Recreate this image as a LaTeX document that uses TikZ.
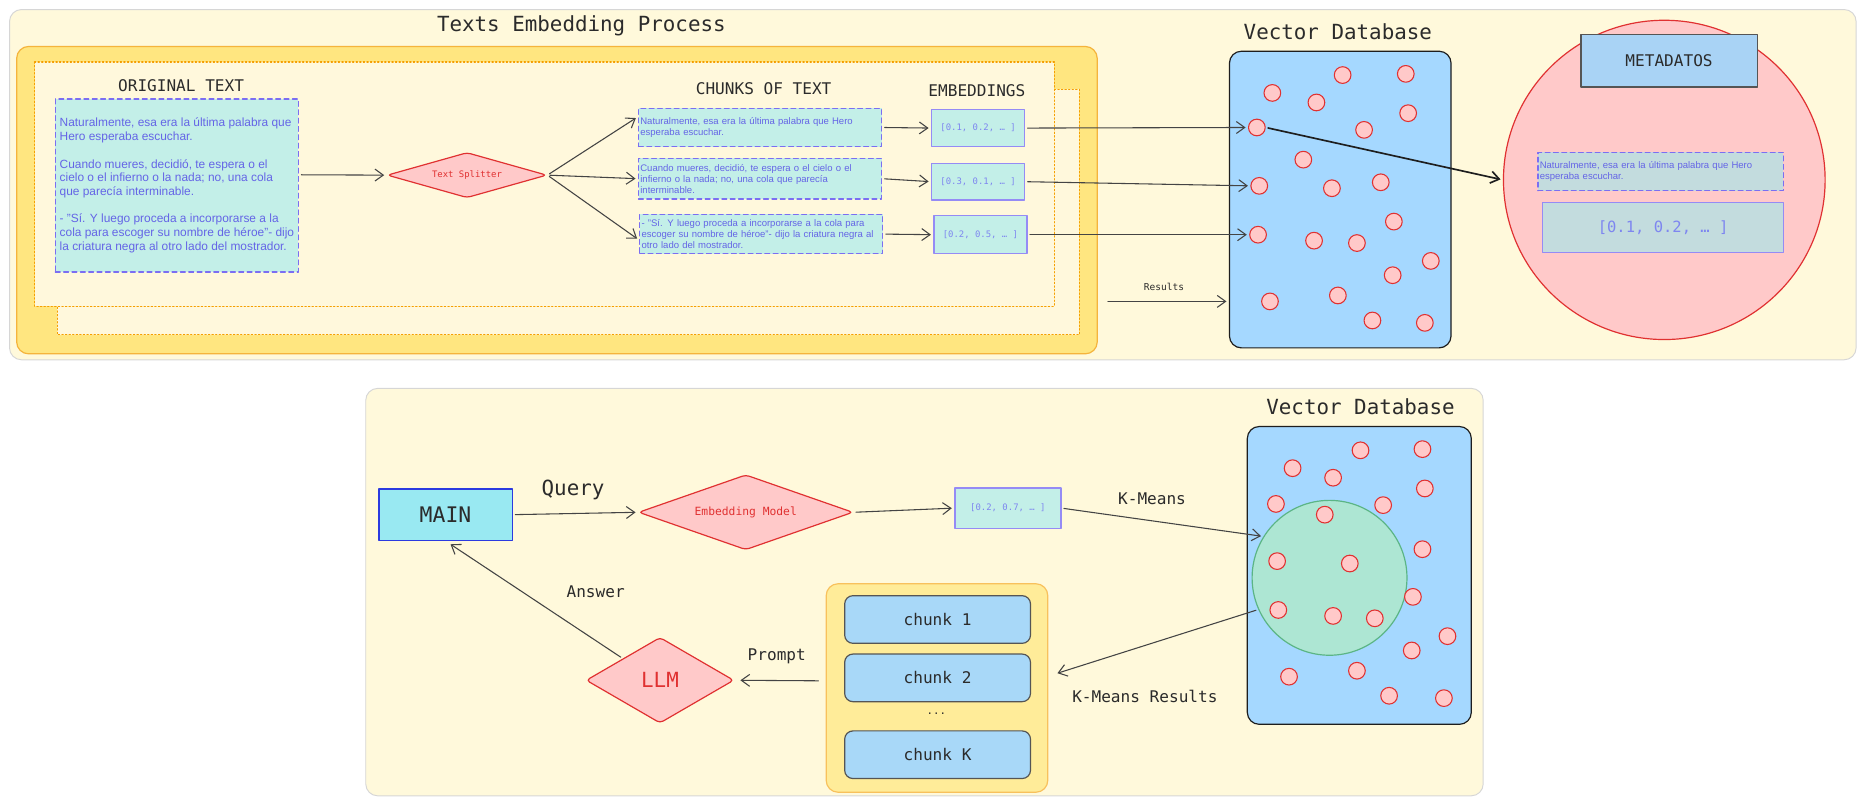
\documentclass[tikz,border=0pt]{standalone}
\usepackage{fontspec}
\setmainfont{Liberation Sans}
\setsansfont{Liberation Sans}
\setmonofont{DejaVu Sans Mono}
\usepackage{tikz}
\usetikzlibrary{arrows.meta,positioning,shapes.geometric}
\definecolor{kbCream}{HTML}{FFF9DB}
\definecolor{kbPanelLine}{HTML}{D6D6D6}
\definecolor{kbYellow}{HTML}{FFE680}
\definecolor{kbOrange}{HTML}{F5B43C}
\definecolor{kbDotLine}{HTML}{F59F00}
\definecolor{kbCreamIn}{HTML}{FFF8DC}
\definecolor{kbViolet}{HTML}{7B6EF2}
\definecolor{kbTeal}{HTML}{C3EFE8}
\definecolor{kbInk}{HTML}{6464E6}
\definecolor{kbVecInk}{HTML}{7E86F0}
\definecolor{kbRed}{HTML}{E03131}
\definecolor{kbPink}{HTML}{FFC9C9}
\definecolor{kbBlue}{HTML}{A5D8FF}
\definecolor{kbDark}{HTML}{1E1E1E}
\definecolor{kbArrow}{HTML}{444444}
\definecolor{kbTitle}{HTML}{2B2B2B}
\definecolor{kbGrey}{HTML}{555555}
\definecolor{kbMetaBlue}{HTML}{A9D3F5}
\definecolor{kbMetaTeal}{HTML}{C3DCDE}
\definecolor{kbCyan}{HTML}{99E9F2}
\definecolor{kbMainLine}{HTML}{2B3AE0}
\definecolor{kbMint}{HTML}{ADE6D3}
\definecolor{kbGreenLine}{HTML}{5BB585}
\definecolor{kbYellowSoft}{HTML}{FFEC99}
\definecolor{kbOrangeSoft}{HTML}{F8C15C}
\definecolor{kbBlueSoft}{HTML}{A8D8F8}
\tikzset{
  kb diagram/.style={x=1pt, y=-1pt, line cap=round, line join=round,
    font=\ttfamily, text=kbTitle},
  kb panel/.style={draw=kbPanelLine, fill=kbCream, line width=0.8pt,
    rounded corners=10pt},
  kb frame/.style={draw=kbOrange, fill=kbYellow, line width=1pt,
    rounded corners=10pt},
  kb dotted/.style={draw=kbDotLine, fill=kbCreamIn, line width=1.1pt,
    dash pattern=on 1pt off 2pt},
  kb textbox/.style={draw=kbViolet, fill=kbTeal, line width=1.1pt,
    dash pattern=on 4pt off 3pt, text=kbInk, align=left, inner sep=1.5pt},
  kb vecbox/.style={draw=kbViolet!80, fill=kbTeal, line width=1.1pt,
    text=kbVecInk, font=\ttfamily\fontsize{7.5}{9}\selectfont},
  kb decision/.style={diamond, draw=kbRed, fill=kbPink, line width=1pt,
    rounded corners=3pt, inner sep=0pt, text=kbRed},
  kb db/.style={draw=kbDark, fill=kbBlue, line width=1pt, rounded corners=10pt},
  kb point/.style={circle, draw=kbRed, fill=kbPink, line width=0.9pt,
    minimum size=14pt, inner sep=0pt},
  kb chunk/.style={draw=kbGrey, fill=kbBlueSoft, line width=1pt,
    rounded corners=7pt, minimum width=156pt, minimum height=40pt,
    font=\ttfamily\fontsize{13.5}{16}\selectfont},
  kb arrow/.style={-{Straight Barb[length=7pt,width=10pt]}, draw=kbArrow,
    line width=0.9pt, shorten <=2pt, shorten >=2pt},
  kb title/.style={font=\ttfamily\fontsize{17.5}{20}\selectfont},
  kb head/.style={font=\ttfamily\fontsize{13.5}{16}\selectfont},
  kb small/.style={font=\ttfamily\fontsize{8}{10}\selectfont},
  kb para/.style={font=\sffamily\fontsize{8}{9.2}\selectfont}
}
\begin{document}
\begin{tikzpicture}[kb diagram]
\useasboundingbox (0,0) rectangle (1568,678);

% embedding process
\draw[kb panel] (8,8) rectangle (1558,302);
\node[kb title] (proctitle) at (488,22) {Texts Embedding Process};
\draw[kb frame] (14,39) rectangle (921,297);
\draw[kb dotted] (48,75) rectangle (906,281);
\draw[kb dotted] (29,52) rectangle (885,257);

\node[kb head] (origtitle) at (152,72) {ORIGINAL TEXT};
\node[kb textbox, minimum width=204pt, minimum height=145pt,
  font=\sffamily\fontsize{10}{11.5}\selectfont] (orig) at (148.5,155.7)
  {Naturalmente, esa era la última palabra que\\
   Hero esperaba escuchar.\\[11.5pt]
   Cuando mueres, decidió, te espera o el\\
   cielo o el infierno o la nada; no, una cola\\
   que parecía interminable.\\[11.5pt]
   - "Sí. Y luego proceda a incorporarse a la\\
   cola para escoger su nombre de héroe"- dijo\\
   la criatura negra al otro lado del mostrador.};

\node[kb decision, aspect=3.5, minimum width=134pt, minimum height=38pt,
  font=\ttfamily\fontsize{7.5}{9}\selectfont] (split) at (392,147) {Text Splitter};

\node[kb head] (chunkstitle) at (641,74) {CHUNKS OF TEXT};
\node[kb textbox, kb para, text width=201pt, minimum height=32pt] (chunk1) at (638,107)
  {Naturalmente, esa era la última palabra que Hero\\esperaba escuchar.};
\node[kb textbox, kb para, text width=201pt, minimum height=34pt] (chunk2) at (638,150)
  {Cuando mueres, decidió, te espera o el cielo o el\\infierno o la nada; no, una cola que parecía\\interminable.};
\node[kb textbox, kb para, text width=201pt, minimum height=33pt] (chunk3) at (639,196.5)
  {- "Sí. Y luego proceda a incorporarse a la cola para\\escoger su nombre de héroe"- dijo la criatura negra al\\otro lado del mostrador.};

\node[kb head] (embtitle) at (820,76) {EMBEDDINGS};
\node[kb vecbox, minimum width=78pt, minimum height=31pt] (emb1) at (821,107.5) {[0.1, 0.2, … ]};
\node[kb vecbox, minimum width=78pt, minimum height=31pt] (emb2) at (821,152.5) {[0.3, 0.1, … ]};
\node[kb vecbox, minimum width=78pt, minimum height=32pt] (emb3) at (823,197) {[0.2, 0.5, … ]};

% stored vectors
\node[kb title] (topdbtitle) at (1123,27) {Vector Database};
\node[kb db, minimum width=186pt, minimum height=249pt] (topdb) at (1125,167.5) {};
\foreach \n/\px/\py in {1/1127/63, 2/1180/62, 3/1068/78, 4/1105/86, 5/1182/95,
  6/1055/107, 7/1145/109, 8/1094/134, 9/1057/156, 10/1118/158, 11/1159/153,
  12/1170/186, 13/1056/197, 14/1103/202, 15/1139/204, 16/1201/219,
  17/1169/231, 18/1066/253, 19/1123/248, 20/1152/269, 21/1196/271}
  \node[kb point] (td\n) at (\px,\py) {};

\node[ellipse, draw=kbRed, fill=kbPink, line width=1pt,
  minimum width=270pt, minimum height=268pt] (meta) at (1397,151) {};
\node[draw=kbGrey, fill=kbMetaBlue, line width=1pt, minimum width=148pt,
  minimum height=44pt, kb head] (metahead) at (1401,51) {METADATOS};
\node[kb textbox, kb para, fill=kbMetaTeal, text width=203pt, minimum height=32pt]
  (metatext) at (1394,144) {Naturalmente, esa era la última palabra que Hero\\esperaba escuchar.};
\node[kb vecbox, fill=kbMetaTeal, minimum width=202pt, minimum height=42pt,
  font=\ttfamily\fontsize{13}{15}\selectfont] (metavec) at (1396,191) {[0.1, 0.2,  … ]};

\draw[kb arrow] ([yshift=9pt]orig.east) -- (split.west);
\draw[kb arrow] (split.east) -- ([yshift=9pt]chunk1.west);
\draw[kb arrow] (split.east) -- (chunk2.west);
\draw[kb arrow] (split.east) -- ([yshift=-5pt]chunk3.west);
\foreach \i in {1,2,3}
  \draw[kb arrow] (chunk\i.east) -- (emb\i.west);
\draw[kb arrow] (emb1.east) -- (td6.west);
\draw[kb arrow] (emb2.east) -- (td9.west);
\draw[kb arrow] (emb3.east) -- (td13.west);
\draw[kb arrow, draw=kbDark, line width=1.4pt] (td6.east) -- (meta.west);

\coordinate (resstart) at (928,253);
\draw[kb arrow] (resstart) -- (resstart -| topdb.west);
\node[kb small] (reslabel) at (977,241) {Results};

% query flow
\draw[kb panel] (307,326) rectangle (1245,668);
\node[kb title] (botdbtitle) at (1142,341) {Vector Database};

\node[draw=kbMainLine, fill=kbCyan, line width=1.2pt, minimum width=112pt,
  minimum height=43pt, font=\ttfamily\fontsize{18}{20}\selectfont] (main) at (374,432) {MAIN};
\node[kb decision, aspect=2.86, minimum width=180pt, minimum height=63pt,
  font=\ttfamily\fontsize{9.5}{11}\selectfont] (embmodel) at (626,430) {Embedding Model};
\node[kb vecbox, minimum width=89pt, minimum height=34pt] (qvec) at (846,426.5) {[0.2, 0.7, … ]};

\node[kb db, minimum width=188pt, minimum height=250pt] (botdb) at (1141,483) {};
\node[circle, draw=kbGreenLine, fill=kbMint, line width=1pt,
  minimum size=130pt] (cluster) at (1116,485) {};
\foreach \n/\px/\py in {1/1142/378, 2/1194/377, 3/1085/393, 4/1119/401, 5/1196/410,
  6/1071/423, 7/1112/432, 8/1161/424, 9/1194/461, 10/1072/471, 11/1133/473,
  12/1186/501, 13/1073/512, 14/1119/517, 15/1154/519, 16/1215/534,
  17/1185/546, 18/1082/568, 19/1139/563, 20/1166/584, 21/1212/586}
  \node[kb point] (bd\n) at (\px,\py) {};

\node[draw=kbOrangeSoft, fill=kbYellowSoft, rounded corners=10pt, line width=1pt,
  minimum width=186pt, minimum height=175pt] (chunkset) at (786.5,577.5) {};
\node[kb chunk] (chunkA) at (787,520) {chunk 1};
\node[kb chunk] (chunkB) at (787,569) {chunk 2};
\node[font=\ttfamily\fontsize{9}{10}\selectfont] (chunkgap) at (786,599) {...};
\node[kb chunk] (chunkK) at (787,633.5) {chunk K};

\node[kb decision, aspect=1.72, minimum width=124pt, minimum height=72pt,
  font=\ttfamily\fontsize{17.5}{20}\selectfont] (llm) at (554,571) {LLM};

\draw[kb arrow] (main.east) -- (embmodel.west);
\node[kb title] (querylabel) at (481,411) {Query};
\draw[kb arrow] (embmodel.east) -- (qvec.west);
\draw[kb arrow] (qvec.east) -- (cluster.148);
\node[kb head] (kmlabel) at (967,419) {K-Means};
\draw[kb arrow, shorten >=8pt] (cluster.204) -- ([yshift=10pt]chunkset.east);
\node[kb head] (kmreslabel) at (961,585) {K-Means Results};
\draw[kb arrow, shorten <=6pt, shorten >=5pt] ([yshift=6pt]chunkset.west) -- (llm.east);
\node[kb head] (promptlabel) at (652,551) {Prompt};
\draw[kb arrow, shorten >=5pt] (llm.north west) -- (main.south);
\node[kb head] (answerlabel) at (500,497) {Answer};
\end{tikzpicture}
\end{document}
